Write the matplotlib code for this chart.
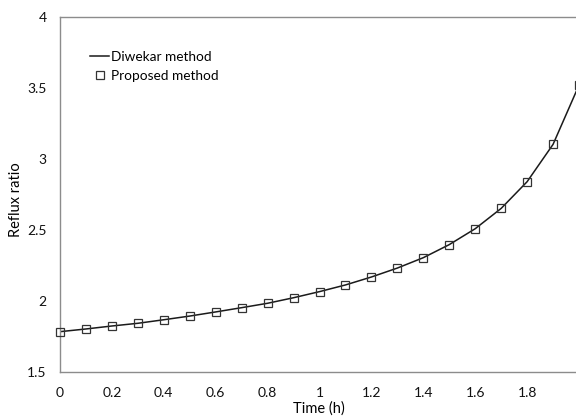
import matplotlib
matplotlib.use("Agg")
import matplotlib.pyplot as plt
from matplotlib.lines import Line2D

time_h = [0.0, 0.1, 0.2, 0.3, 0.4, 0.5, 0.6, 0.7, 0.8, 0.9, 1.0,
          1.1, 1.2, 1.3, 1.4, 1.5, 1.6, 1.7, 1.8, 1.9, 2.0]
diwekar = [1.784, 1.803, 1.824, 1.843, 1.868, 1.894, 1.923, 1.953, 1.984, 2.023, 2.066,
           2.113, 2.169, 2.232, 2.305, 2.397, 2.509, 2.652, 2.840, 3.103, 3.52]
proposed = [1.784, 1.803, 1.824, 1.843, 1.868, 1.894, 1.923, 1.953, 1.984, 2.023, 2.066,
            2.113, 2.169, 2.232, 2.305, 2.397, 2.509, 2.652, 2.840, 3.103, 3.52]
xticks = [0, 0.2, 0.4, 0.6, 0.8, 1, 1.2, 1.4, 1.6, 1.8, 2]
xticklabels = ["0", "0.2", "0.4", "0.6", "0.8", "1", "1.2", "1.4", "1.6", "1.8", "2"]
yticks = [1.5, 2, 2.5, 3, 3.5, 4]
yticklabels = ["1.5", "2", "2.5", "3", "3.5", "4"]

plt.rcParams['font.family'] = ['Lato', 'DejaVu Sans']

W, H = 576, 419
fig = plt.figure(figsize=(W / 100, H / 100), dpi=100)
left, right, top, bottom = 60, 579, 17, 372
aw, ah = right - left, bottom - top
ax = fig.add_axes([left / W, 1 - bottom / H, aw / W, ah / H])

ax.plot(time_h, diwekar, color='#1a1a1a', lw=1.1, zorder=2)
ax.plot(time_h, proposed, ls='none', marker='s', ms=5.8, mfc='none',
        mec='#333333', mew=0.9, zorder=3, clip_on=False)

ax.set_xlim(0, 2)
ax.set_ylim(1.5, 4)
ax.set_xticks(xticks)
ax.set_xticklabels(xticklabels)
ax.set_yticks(yticks)
ax.set_yticklabels(yticklabels)
ax.tick_params(length=0, labelsize=10, colors='#111111')
ax.tick_params(axis='x', pad=11)
ax.tick_params(axis='y', pad=9.5)
for s in ax.spines.values():
    s.set_color('#8c8c8c')
    s.set_linewidth(1.0)

fig.text(319 / W, 1 - 409 / H, 'Time (h)', fontsize=10.5, ha='center', va='center')
fig.text(16 / W, 1 - 200 / H, 'Reflux ratio', fontsize=10.5, ha='center', va='center',
         rotation=90)

handles = [Line2D([], [], color='#1a1a1a', lw=1.1),
           Line2D([], [], ls='none', marker='s', ms=5.8, mfc='none', mec='#333333', mew=0.9)]
ax.legend(handles, ['Diwekar method', 'Proposed method'], frameon=False,
          loc='upper left', bbox_to_anchor=(0.035, 0.94), fontsize=9.8,
          handlelength=1.4, handletextpad=0.1, labelspacing=0.55)

fig.savefig('out.png', dpi=100)
